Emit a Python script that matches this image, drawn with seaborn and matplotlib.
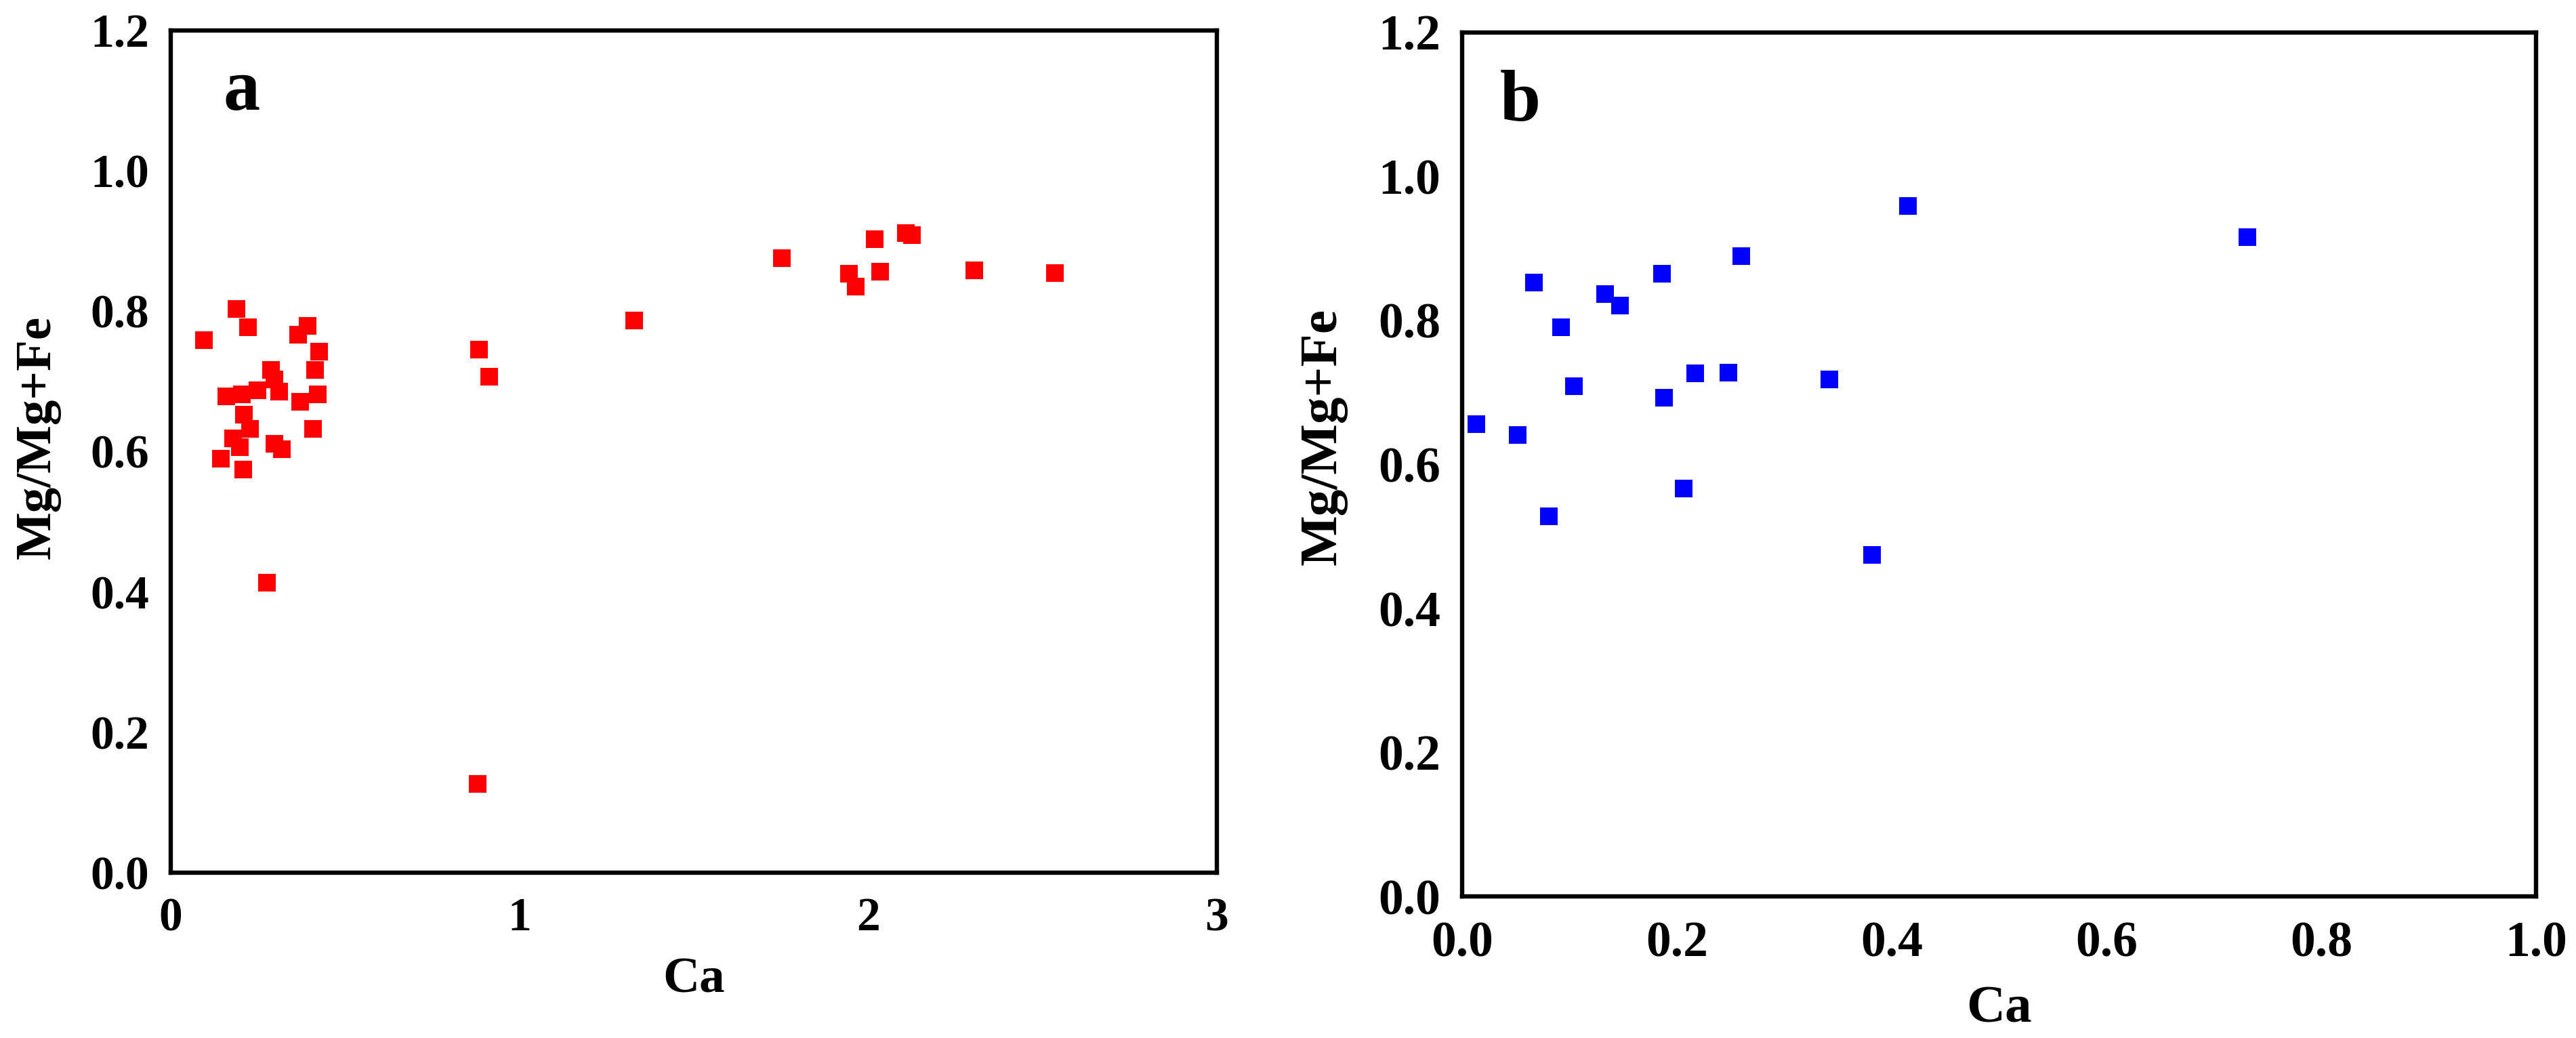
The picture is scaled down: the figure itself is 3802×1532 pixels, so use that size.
import numpy as np
import pandas as pd
import matplotlib
matplotlib.use("Agg")
import matplotlib.pyplot as plt
import seaborn as sns

# --- data ---
ca_a = [0.188, 0.222, 0.095, 0.393, 0.366, 0.425, 0.414, 0.287, 0.297, 0.310,
        0.421, 0.372, 0.159, 0.204, 0.249, 0.210, 0.228, 0.179, 0.199, 0.297,
        0.319, 0.409, 0.143, 0.207, 0.275, 0.880, 0.885, 0.913, 1.329, 1.753,
        2.019, 2.109, 2.125, 1.944, 1.965, 2.034, 2.305, 2.536]
mg_a = [0.803, 0.777, 0.759, 0.779, 0.767, 0.742, 0.716, 0.716, 0.703, 0.685,
        0.682, 0.671, 0.679, 0.682, 0.687, 0.653, 0.632, 0.619, 0.606, 0.611,
        0.603, 0.632, 0.590, 0.574, 0.413, 0.126, 0.745, 0.707, 0.787, 0.876,
        0.903, 0.911, 0.908, 0.853, 0.835, 0.856, 0.858, 0.854]

ca_b = [0.013, 0.052, 0.067, 0.081, 0.092, 0.104, 0.133, 0.147, 0.186, 0.188,
        0.206, 0.217, 0.248, 0.260, 0.342, 0.382, 0.415, 0.731]
mg_b = [0.656, 0.641, 0.853, 0.528, 0.791, 0.709, 0.837, 0.821, 0.865, 0.693,
        0.567, 0.727, 0.728, 0.889, 0.718, 0.474, 0.959, 0.916]

xticks_a = [0, 1, 2, 3]
xticks_b = [0.0, 0.2, 0.4, 0.6, 0.8, 1.0]
yticks = [0.0, 0.2, 0.4, 0.6, 0.8, 1.0, 1.2]

df_a = pd.DataFrame({"Ca": ca_a, "Mg": mg_a})
df_b = pd.DataFrame({"Ca": ca_b, "Mg": mg_b})

sns.set_theme(style="white")
plt.rcParams["font.family"] = ["Liberation Serif", "DejaVu Serif"]
plt.rcParams["font.weight"] = "bold"
plt.rcParams["axes.labelweight"] = "bold"

fig = plt.figure(figsize=(19.01, 7.66), dpi=200)
fig.patch.set_facecolor("white")

ax_a = fig.add_axes([0.06628, 0.15927, 0.40610, 0.81136])
ax_b = fig.add_axes([0.56760, 0.13642, 0.41689, 0.83225])

# axes, data, colour, xticks, xticklabels, xlim, tag, tag x, tag y, font size,
# xlabel y (axes frac), ylabel x / y (axes frac)
panels = [
    (ax_a, df_a, "#FF0000", xticks_a, [str(t) for t in xticks_a], (0, 3),
     "a", 0.204, 1.087, 25, -0.100, -0.105, 0.517),
    (ax_b, df_b, "#0000FF", xticks_b, ["%.1f" % t for t in xticks_b], (0, 1),
     "b", 0.054, 1.078, 26.5, -0.1035, -0.107, 0.532),
]

for ax, df, col, xt, xtl, xlim, tag, tx, ty, fs, xly, ylx, yly in panels:
    sns.scatterplot(data=df, x="Ca", y="Mg", ax=ax, marker="s", color=col,
                    s=94, linewidth=0, zorder=3, clip_on=False)
    ax.set_xlim(*xlim)
    ax.set_ylim(0, 1.2)
    ax.set_xticks(xt)
    ax.set_xticklabels(xtl)
    ax.set_yticks(yticks)
    ax.set_yticklabels(["%.1f" % t for t in yticks])
    ax.tick_params(axis="both", length=0, labelsize=fs, colors="black")
    ax.tick_params(axis="x", pad=13)
    ax.tick_params(axis="y", pad=11.5)
    for lbl in ax.get_xticklabels() + ax.get_yticklabels():
        lbl.set_fontweight("bold")
    for sp in ax.spines.values():
        sp.set_visible(True)
        sp.set_color("black")
        sp.set_linewidth(2.3)
    ax.set_xlabel("Ca", fontsize=fs + 2, fontweight="bold", color="black")
    ax.set_ylabel("Mg/Mg+Fe", fontsize=fs + 2, fontweight="bold", color="black")
    ax.xaxis.set_label_coords(0.5, xly)
    ax.yaxis.set_label_coords(ylx, yly)
    ax.text(tx, ty, tag, fontsize=39, fontweight="bold", color="black",
            ha="center", va="baseline")
    ax.grid(False)

fig.savefig("out.png", dpi=200, facecolor="white")
